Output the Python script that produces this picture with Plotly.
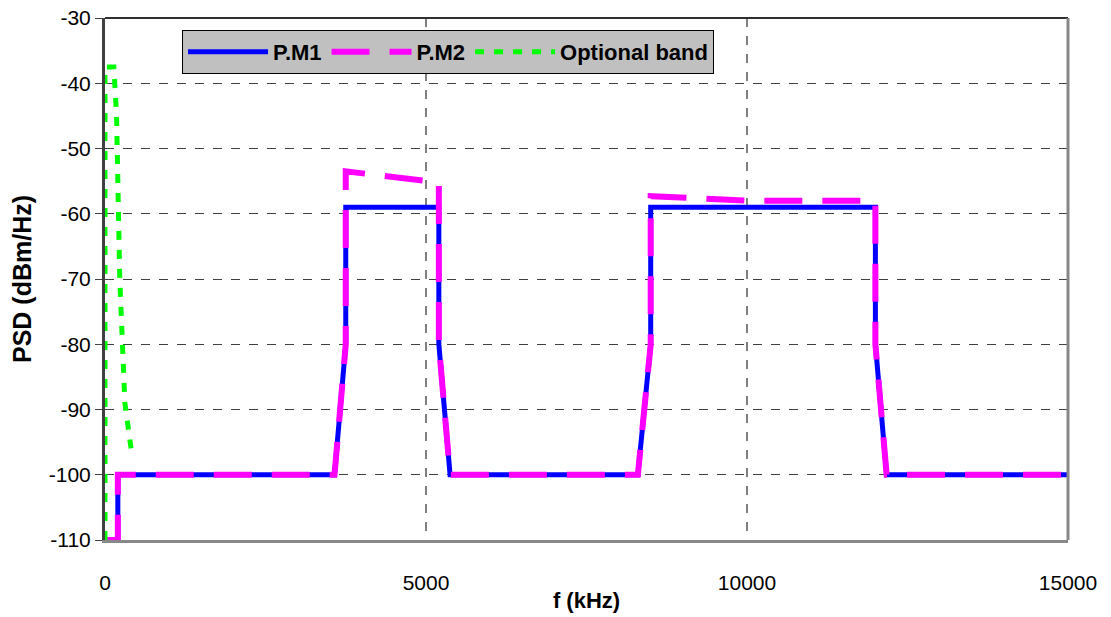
import plotly.graph_objects as go

# Data
f_pm1 = [0, 200, 200, 3575, 3750, 3750, 5200, 5200, 5375, 8300, 8500, 8500, 12000, 12000, 12175, 15000]
psd_pm1 = [-110, -110, -100, -100, -80, -59, -59, -80, -100, -100, -80, -59, -59, -80, -100, -100]

f_pm2 = [0, 200, 200, 3575, 3750, 3750, 5200, 5200, 5375, 8300, 8500, 8500, 10000, 12000, 12000, 12175, 15000]
psd_pm2 = [-110, -110, -100, -100, -80, -53.5, -55.2, -80, -100, -100, -80, -57.3, -58, -58, -80, -100, -100]

f_opt = [0, 0, 138, 180, 230, 310, 420]
psd_opt = [-110, -37.5, -37.5, -45, -70, -89, -97]

y_ticks = [-110, -100, -90, -80, -70, -60, -50, -40, -30]
y_ticktext = ["-110", "-100", "-90", "-80", "-70", "-60", "-50", "-40", "-30"]
x_ticks = [0, 5000, 10000, 15000]
x_ticktext = ["0", "5000", "10000", "15000"]

FONT = "Liberation Sans, Arial, sans-serif"

fig = go.Figure()
fig.add_trace(go.Scatter(x=f_pm1, y=psd_pm1, mode="lines", name="<b>P.M1</b>",
                         line=dict(color="#0000ff", width=5)))
fig.add_trace(go.Scatter(x=f_pm2, y=psd_pm2, mode="lines", name="<b>P.M2</b>",
                         line=dict(color="#ff00ff", width=6, dash="38px,20px")))
fig.add_trace(go.Scatter(x=f_opt, y=psd_opt, mode="lines", name="<b>Optional band</b>",
                         line=dict(color="#00ff00", width=5, dash="9px,10px")))

fig.update_layout(
    width=1111, height=617,
    margin=dict(l=105, r=43, t=18, b=77),
    paper_bgcolor="white", plot_bgcolor="white",
    font=dict(family=FONT, size=21, color="black"),
    showlegend=True,
    legend=dict(orientation="h", x=0.08, y=0.977, xanchor="left", yanchor="top",
                bgcolor="#c0c0c0", bordercolor="black", borderwidth=1,
                font=dict(family=FONT, size=22, color="black"),
                itemwidth=80, tracegroupgap=0),
    xaxis=dict(range=[0, 15000], tickvals=x_ticks, ticktext=x_ticktext,
               showgrid=True, gridcolor="#808080", gridwidth=1.5, griddash="dash",
               zeroline=False, showline=True, linecolor="#888888", linewidth=3,
               ticks="outside", ticklen=22, tickcolor="rgba(0,0,0,0)",
               tickfont=dict(size=21), automargin=False,
               title=dict(text="<b>f (kHz)</b>", font=dict(size=22), standoff=0)),
    yaxis=dict(range=[-110, -30], tickvals=y_ticks, ticktext=y_ticktext,
               showgrid=True, gridcolor="#404040", gridwidth=1, griddash="dash",
               zeroline=False, showline=True, linecolor="#404040", linewidth=3,
               ticks="outside", ticklen=7, tickcolor="#404040",
               tickfont=dict(size=21), automargin=False,
               title=dict(text="<b>PSD (dBm/Hz)</b>", font=dict(size=25), standoff=11)),
    shapes=[
        dict(type="line", xref="paper", yref="paper", x0=0, x1=1, y0=1, y1=1,
             line=dict(color="#303030", width=2)),
        dict(type="line", xref="paper", yref="paper", x0=1, x1=1, y0=0, y1=1,
             line=dict(color="#888888", width=3)),
    ],
)

fig.write_html("out.html")
